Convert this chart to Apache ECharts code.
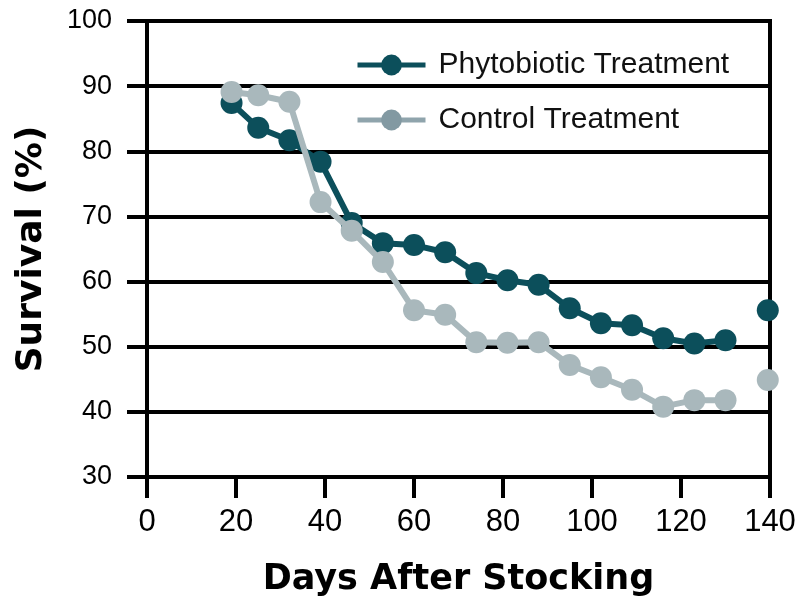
<!DOCTYPE html>
<html>
<head>
<meta charset="utf-8">
<script src="https://cdn.jsdelivr.net/npm/echarts@6/dist/echarts.min.js"></script>
<style>html,body{margin:0;padding:0;background:#fff;}#c{width:801px;height:602px;}</style>
</head>
<body>
<div id="c"></div>
<script>
const days = [19, 25, 32, 39, 46, 53, 60, 67, 74, 81, 88, 95, 102, 109, 116, 123, 130];
const phytoValues = [87.4, 83.6, 81.7, 78.4, 69.0, 65.9, 65.6, 64.5, 61.3, 60.2, 59.5, 55.9, 53.6, 53.3, 51.3, 50.5, 51.0];
const controlValues = [89.1, 88.6, 87.6, 72.2, 67.8, 63.0, 55.6, 54.9, 50.7, 50.6, 50.7, 47.2, 45.3, 43.4, 40.8, 41.8, 41.8];
const lastDay = [139.5];
const phytoLast = [55.6];
const controlLast = [44.9];
const xTicks = [0, 20, 40, 60, 80, 100, 120, 140];
const yTicks = [30, 40, 50, 60, 70, 80, 90, 100];

const PHYTO = '#0c4f5b';
const CONTROL = '#a9b8bc';
const pairs = (xs, ys) => xs.map((x, i) => [x, ys[i]]);

const chart = echarts.init(document.getElementById('c'), null, {renderer: 'canvas'});
chart.setOption({
  animation: false,
  backgroundColor: '#fff',
  grid: {left: 147, right: 31, top: 21, bottom: 125, show: true, borderColor: '#000', borderWidth: 4},
  legend: {
    orient: 'vertical',
    left: 350, top: 45,
    itemWidth: 68, itemHeight: 26, itemGap: 25,
    textStyle: {fontFamily: 'Liberation Sans, Arial, sans-serif', fontSize: 30, color: '#111', padding: [0, 0, 0, 8]},
    data: [
      {name: 'Phytobiotic Treatment', itemStyle: {color: PHYTO}, lineStyle: {color: PHYTO, width: 5}},
      {name: 'Control Treatment', itemStyle: {color: '#8299a2'}, lineStyle: {color: '#8fa4ac', width: 5}}
    ]
  },
  xAxis: {
    type: 'value', min: xTicks[0], max: xTicks[xTicks.length - 1], interval: 20,
    name: 'Days After Stocking', nameLocation: 'middle', nameGap: 85,
    nameTextStyle: {fontFamily: 'DejaVu Sans', fontWeight: 'bold', fontSize: 35, color: '#000'},
    axisLine: {show: true, lineStyle: {color: '#000', width: 4}},
    axisTick: {show: true, length: 21, lineStyle: {color: '#000', width: 4}},
    axisLabel: {fontFamily: 'Liberation Sans, Arial, sans-serif', fontSize: 31, color: '#000', margin: 30},
    splitLine: {show: false}
  },
  yAxis: {
    type: 'value', min: yTicks[0], max: yTicks[yTicks.length - 1], interval: 10,
    name: 'Survival (%)', nameLocation: 'middle', nameGap: 97,
    nameTextStyle: {fontFamily: 'DejaVu Sans', fontWeight: 'bold', fontSize: 36, color: '#000'},
    axisLine: {show: true, lineStyle: {color: '#000', width: 4}},
    axisTick: {show: true, length: 20, lineStyle: {color: '#000', width: 4}},
    axisLabel: {fontFamily: 'Liberation Sans, Arial, sans-serif', fontSize: 27, color: '#000', margin: 35},
    splitLine: {show: true, lineStyle: {color: '#000', width: 4}}
  },
  series: [
    {
      name: 'Phytobiotic Treatment', type: 'line', data: pairs(days, phytoValues),
      symbol: 'circle', symbolSize: 22, color: PHYTO,
      lineStyle: {color: PHYTO, width: 6}, itemStyle: {color: PHYTO}, z: 3
    },
    {
      name: 'Phytobiotic Treatment', type: 'scatter', data: pairs(lastDay, phytoLast),
      symbol: 'circle', symbolSize: 22, itemStyle: {color: PHYTO, opacity: 1}, z: 3
    },
    {
      name: 'Control Treatment', type: 'line', data: pairs(days, controlValues),
      symbol: 'circle', symbolSize: 22, color: CONTROL,
      lineStyle: {color: CONTROL, width: 6}, itemStyle: {color: CONTROL}, z: 4
    },
    {
      name: 'Control Treatment', type: 'scatter', data: pairs(lastDay, controlLast),
      symbol: 'circle', symbolSize: 22, itemStyle: {color: CONTROL, opacity: 1}, z: 4
    }
  ]
});
</script>
</body>
</html>
